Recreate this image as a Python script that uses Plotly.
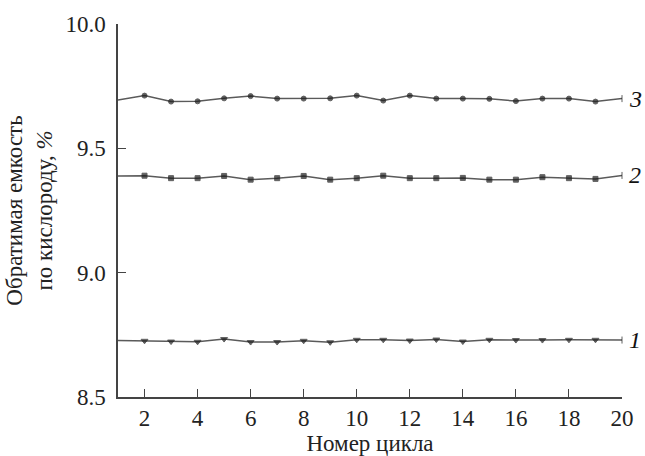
import plotly.graph_objects as go

cycles = list(range(1, 21))
series3 = [9.694, 9.712, 9.688, 9.689, 9.701, 9.710, 9.700, 9.700, 9.701, 9.712,
           9.692, 9.712, 9.700, 9.700, 9.699, 9.690, 9.700, 9.700, 9.688, 9.700]
series2 = [9.389, 9.390, 9.380, 9.380, 9.389, 9.374, 9.380, 9.389, 9.374, 9.380,
           9.390, 9.380, 9.380, 9.381, 9.374, 9.374, 9.384, 9.380, 9.377, 9.391]
series1 = [8.727, 8.726, 8.723, 8.722, 8.733, 8.721, 8.721, 8.726, 8.720, 8.730,
           8.730, 8.727, 8.731, 8.723, 8.730, 8.729, 8.729, 8.730, 8.730, 8.729]
labels = ["1", "2", "3"]
x_ticks = list(range(2, 21, 2))

FONT = "Liberation Serif"
LINE_C = "#5a5a5a"
MARK_C = "#1e1e1e"

fig = go.Figure()

def add_series(y, sym, size):
    n = len(y)
    symbols = [sym] * n
    sizes = [size] * n
    sizes[0] = 0
    symbols[-1] = "line-ns"
    sizes[-1] = 5
    fig.add_trace(go.Scatter(
        x=cycles, y=y, mode="lines+markers",
        line=dict(color=LINE_C, width=1.5),
        marker=dict(symbol=symbols, size=sizes, color=MARK_C,
                    line=dict(color=MARK_C, width=1)),
        cliponaxis=False, showlegend=False,
    ))

add_series(series3, "circle", 5)
add_series(series2, "square", 5)
add_series(series1, "triangle-down", 6)

for lab, ys in zip(labels, [series1, series2, series3]):
    fig.add_annotation(x=cycles[-1], y=ys[-1], text="<i>" + lab + "</i>",
                       showarrow=False, xanchor="left", xshift=5,
                       font=dict(family=FONT, size=24, color="#111"))

fig.update_layout(
    width=645, height=456,
    margin=dict(l=118, r=23, t=24, b=59),
    paper_bgcolor="white", plot_bgcolor="white",
    font=dict(family=FONT, size=23, color="#222"),
)
fig.update_xaxes(
    range=[1, 20], tickvals=x_ticks, ticks="inside", ticklen=8,
    tickcolor="#444", tickwidth=1.2,
    showline=True, linecolor="#444", linewidth=1.5,
    showgrid=False, zeroline=False, automargin=False,
    title=dict(text="Номер цикла", standoff=0, font=dict(family=FONT, size=23, color="#222")),
    tickfont=dict(family=FONT, size=23, color="#222"),
)
fig.update_yaxes(
    range=[8.5, 10.0], dtick=0.5, tick0=8.5, tickformat=".1f",
    ticks="inside", ticklen=8, tickcolor="#444", tickwidth=1.2,
    showline=True, linecolor="#444", linewidth=1.5,
    showgrid=False, zeroline=False, automargin=False,
    ticklabelstandoff=6,
    title=dict(text="Обратимая емкость<br>по кислороду, <i>%</i>", standoff=6,
               font=dict(family=FONT, size=23, color="#222")),
    tickfont=dict(family=FONT, size=23, color="#222"),
)

fig.write_html("out.html")
